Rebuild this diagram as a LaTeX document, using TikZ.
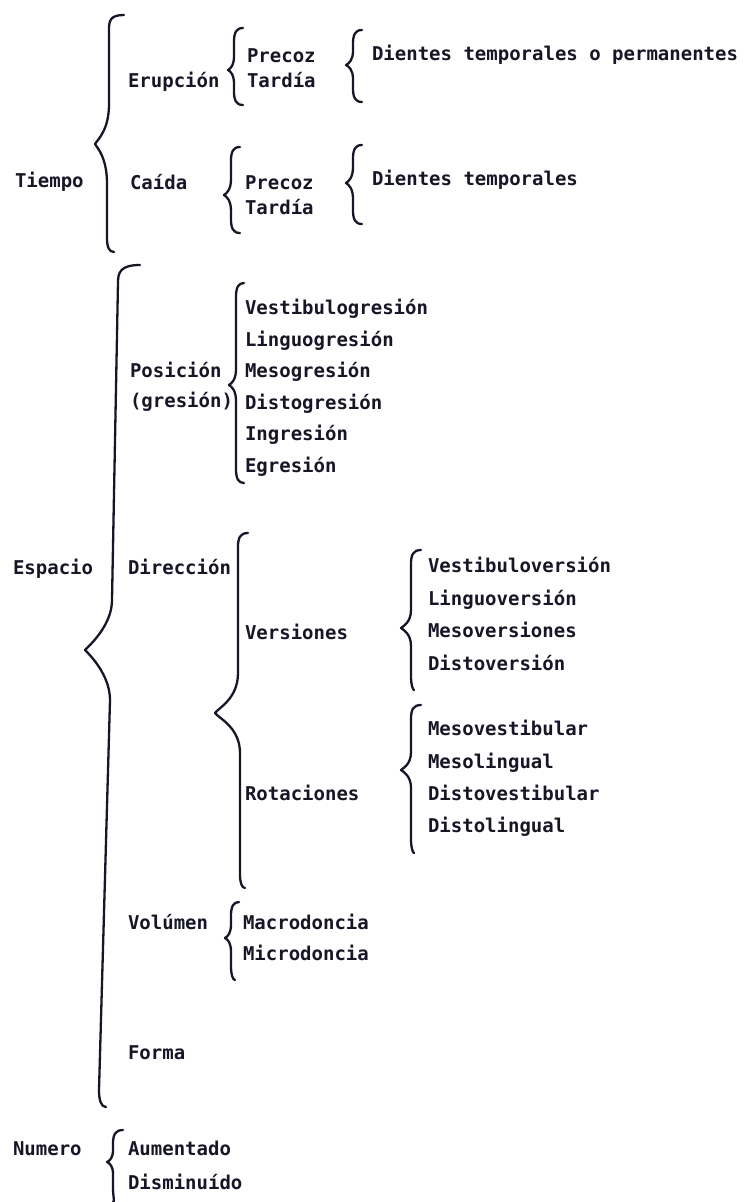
\documentclass[tikz,border=0pt]{standalone}
\usepackage{fontspec}
\newfontfamily\dmono{DejaVu Sans Mono}
\definecolor{ink}{RGB}{22,22,38}
\tikzset{
  lbl/.style={anchor=base west, inner sep=0pt, outer sep=0pt, text=ink,
              font=\dmono\bfseries\fontsize{19}{19}\selectfont},
  brc/.style={draw=ink, line width=2.3pt, line cap=round, line join=round}
}
% #1 top-end x, #2 top y, #3 upper line x, #4 tip x, #5 tip y,
% #6 lower line x, #7 bottom-end x, #8 bottom y, #9 tip half-span
\newcommand\curlybr[9]{%
  \draw[brc] (#1,#2) .. controls ({#3+2},#2) and (#3,{#2+5}) .. (#3,{#2+14})
    -- (#3,{#5-#9})
    .. controls (#3,{#5-0.35*#9}) and ({#4+3},{#5-0.12*#9}) .. (#4,#5)
    .. controls ({#4+3},{#5+0.12*#9}) and (#6,{#5+0.35*#9}) .. (#6,{#5+#9})
    -- (#6,{#8-14})
    .. controls (#6,{#8-5}) and ({#6+2},#8) .. (#7,#8);
}
\begin{document}
\begin{tikzpicture}[x=1pt,y=-1pt]
\useasboundingbox (0,0) rectangle (745,1202);

% ---------- Tiempo ----------
\node[lbl] (tiempo)   at (15,187) {Tiempo};
\node[lbl] (erupcion) at (128,87) {Erupción};
\node[lbl] (eprecoz)  at (247,62) {Precoz};
\node[lbl] (etardia)  at (247,87) {Tardía};
\node[lbl] (dtp)      at (372,60) {Dientes temporales o permanentes};
\node[lbl] (caida)    at (130,189) {Caída};
\node[lbl] (cprecoz)  at (245,189) {Precoz};
\node[lbl] (ctardia)  at (245,214) {Tardía};
\node[lbl] (dt)       at (372,185) {Dientes temporales};

\curlybr{124}{15}{109}{95}{144}{107}{114}{252}{40}
\curlybr{243}{28}{234}{228}{70}{234}{243}{105}{14}
\curlybr{362}{30}{353}{346}{65}{353}{362}{102}{14}
\curlybr{240}{147}{231}{224}{195}{231}{240}{233}{16}
\curlybr{362}{145}{353}{346}{183}{353}{362}{224}{16}

% ---------- Espacio ----------
\node[lbl] (espacio)  at (13,574) {Espacio};
\node[lbl] (posicion) at (130,377) {Posición};
\node[lbl] (gresion)  at (130,407) {(gresión)};
\node[lbl] (g1) at (245,314) {Vestibulogresión};
\node[lbl] (g2) at (245,346) {Linguogresión};
\node[lbl] (g3) at (245,377) {Mesogresión};
\node[lbl] (g4) at (245,409) {Distogresión};
\node[lbl] (g5) at (245,440) {Ingresión};
\node[lbl] (g6) at (245,472) {Egresión};

\node[lbl] (direccion)  at (128,574) {Dirección};
\node[lbl] (versiones)  at (245,639) {Versiones};
\node[lbl] (rotaciones) at (245,800) {Rotaciones};
\node[lbl] (v1) at (428,572) {Vestibuloversión};
\node[lbl] (v2) at (428,605) {Linguoversión};
\node[lbl] (v3) at (428,637) {Mesoversiones};
\node[lbl] (v4) at (428,670) {Distoversión};
\node[lbl] (r1) at (428,735) {Mesovestibular};
\node[lbl] (r2) at (428,768) {Mesolingual};
\node[lbl] (r3) at (428,800) {Distovestibular};
\node[lbl] (r4) at (428,832) {Distolingual};

\node[lbl] (volumen) at (128,929) {Volúmen};
\node[lbl] (macro)   at (243,929) {Macrodoncia};
\node[lbl] (micro)   at (243,960) {Microdoncia};
\node[lbl] (forma)   at (128,1059) {Forma};

% Espacio brace (slanted)
\draw[brc] (140,265) .. controls (121,265) and (118,272) .. (118,282)
  -- (112,600) .. controls (112,625) and (90,645) .. (85,650)
  .. controls (90,655) and (110,675) .. (110,700)
  -- (99,1090) .. controls (99,1100) and (101,1107) .. (106,1107);

\curlybr{244}{283}{236}{229}{385}{236}{244}{483}{16}
\curlybr{248}{533}{238}{215}{713}{240}{245}{888}{40}
\curlybr{421}{550}{411}{401}{628}{411}{414}{690}{18}
\curlybr{421}{705}{411}{401}{770}{411}{414}{853}{18}
\curlybr{239}{902}{231}{225}{938}{231}{235}{980}{14}

% ---------- Numero ----------
\node[lbl] (numero)  at (13,1155) {Numero};
\node[lbl] (aument)  at (128,1155) {Aumentado};
\node[lbl] (dismin)  at (128,1189) {Disminuído};
\curlybr{123}{1130}{113}{107}{1162}{113}{113}{1202}{12}
\end{tikzpicture}
\end{document}
